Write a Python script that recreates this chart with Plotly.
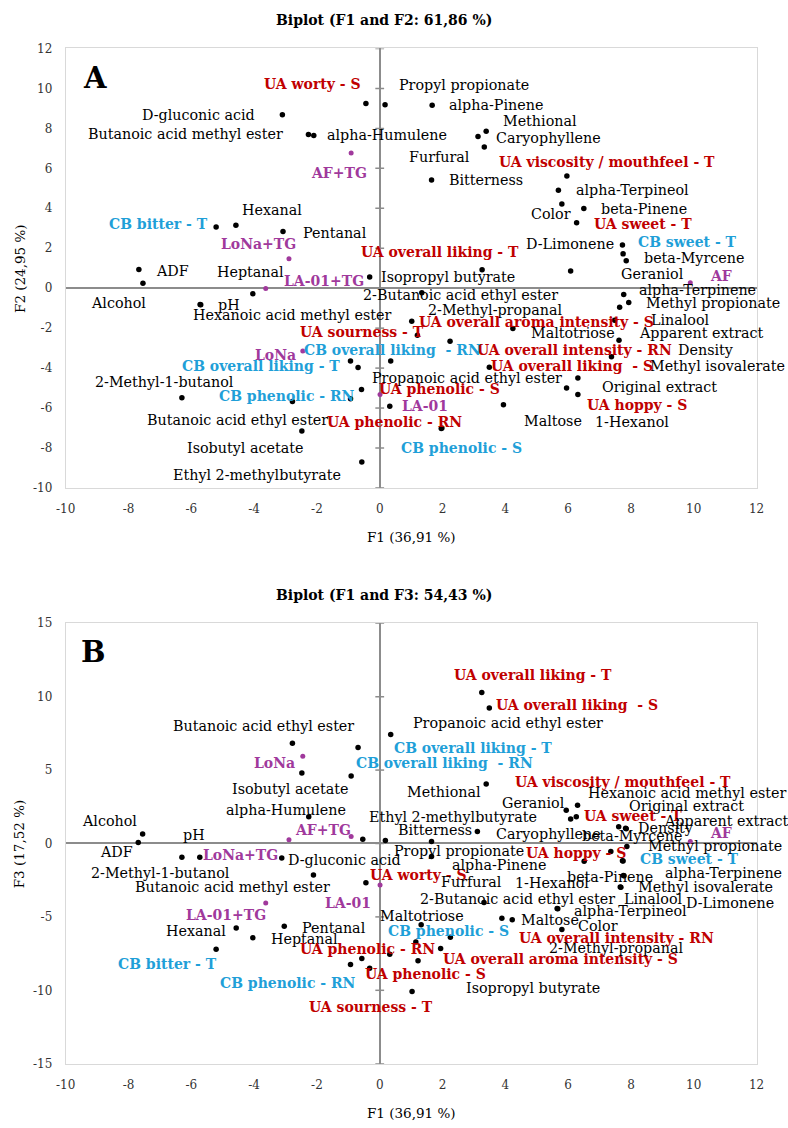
import plotly.graph_objects as go

W, H = 788, 1128

# ---------------------------------------------------------------- data
variables = [
    "D-gluconic acid", "Butanoic acid methyl ester", "alpha-Humulene", "Propyl propionate",
    "UA worty - S", "alpha-Pinene", "Methional", "Caryophyllene", "Furfural", "Bitterness",
    "UA viscosity / mouthfeel - T", "alpha-Terpineol", "Color", "beta-Pinene", "UA sweet - T",
    "D-Limonene", "CB sweet - T", "beta-Myrcene", "Geraniol", "alpha-Terpinene",
    "Methyl propionate", "1-Hexanol", "Linalool", "Apparent extract", "Density",
    "Methyl isovalerate", "UA hoppy - S", "Original extract", "UA overall liking - T",
    "Isopropyl butyrate", "Heptanal", "ADF", "Alcohol", "pH", "Hexanoic acid methyl ester",
    "2-Methyl-1-butanol", "CB phenolic - RN", "Isobutyl acetate", "Ethyl 2-methylbutyrate",
    "2-Butanoic acid ethyl ester", "2-Methyl-propanal", "UA overall aroma intensity - S",
    "Maltotriose", "UA overall intensity - RN", "UA overall liking  - S",
    "CB overall liking  - RN", "CB overall liking - T", "UA sourness - T",
    "Propanoic acid ethyl ester", "Butanoic acid ethyl ester", "UA phenolic - S", "Maltose",
    "UA phenolic - RN", "CB phenolic - S", "Hexanal", "CB bitter - T", "Pentanal",
]

# Panel A coordinates (F1, F2)
f1_A = [-3.10, -2.27, -2.10, 0.17, -0.44, 1.67, 3.39, 3.13, 3.33, 1.65,
        5.96, 5.69, 5.80, 6.50, 6.27, 7.73, 7.75, 7.85, 6.08, 7.77,
        7.93, 7.64, 7.48, 7.62, 7.38, 6.31, 5.95, 6.31, 3.26, -0.32,
        -4.04, -7.67, -7.54, -5.72, -5.70, -6.30, -2.78, -2.48, -0.57, 1.34,
        1.02, 1.20, 4.24, 2.24, 3.49, -0.93, -0.69, 0.35, -0.58, -0.93,
        0.32, 3.94, 1.96, 1.98, -4.58, -5.21, -3.08]
f2_A = [8.68, 7.70, 7.65, 9.18, 9.24, 9.16, 7.86, 7.60, 7.07, 5.42,
        5.62, 4.90, 4.22, 3.99, 3.28, 2.16, 1.72, 1.38, 0.86, -0.31,
        -0.72, -0.95, -1.61, -2.60, -3.43, -4.50, -4.99, -5.32, 0.92, 0.56,
        -0.28, 0.94, 0.25, -0.81, -0.83, -5.49, -5.67, -7.15, -8.70, -0.23,
        -1.66, -2.35, -2.02, -2.65, -3.96, -3.64, -3.97, -3.64, -5.07, -5.53,
        -5.91, -5.83, -7.02, -7.00, 3.15, 3.06, 2.84]

# Panel B coordinates (F1, F3)
f1_B = [-3.12, -2.11, -2.26, 0.18, -0.44, 1.65, 3.39, 3.11, 3.32, 1.65,
        6.30, 5.67, 5.80, 7.66, 6.26, 7.78, 7.73, 7.36, 6.08, 7.76,
        7.87, 5.65, 7.68, 7.85, 7.83, 7.75, 6.51, 7.61, 3.25, 1.03,
        -4.04, -7.69, -7.55, -5.73, 5.94, -6.30, -0.93, -2.48, -0.54, 3.89,
        -0.57, 1.94, 1.32, 0.32, 3.49, -0.91, -0.69, -0.32, 0.35, -2.78,
        1.22, 4.22, 1.15, 2.25, -4.57, -5.21, -3.04]
f3_B = [-0.99, -2.15, 1.82, 0.20, -2.67, -0.88, 4.06, 0.81, -4.02, 0.13,
        2.60, -4.44, -5.86, -2.96, 1.82, -2.20, -1.17, -0.54, 1.66, -2.18,
        -0.20, -4.42, -2.98, 1.01, 1.03, -1.19, -1.21, 1.14, 10.28, -10.08,
        -6.42, 0.07, 0.65, -0.94, 2.27, -0.94, -8.24, 4.80, 0.29, -5.10,
        -7.83, -7.16, -5.54, -7.54, 9.23, 4.60, 6.53, -8.50, 7.43, 6.82,
        -7.99, -5.19, -6.71, -6.38, -5.75, -7.21, -5.64]

samples = ["AF+TG", "LoNa+TG", "LA-01+TG", "AF", "LoNa", "LA-01"]
sample_f1 = [-0.91, -2.89, -3.63, 9.89, -2.45, 0.01]
sample_f2 = [6.77, 1.47, -0.01, 0.27, -3.15, -5.32]
sample_f3 = [0.47, 0.25, -4.06, 0.13, 5.95, -2.83]

x_ticks = [-10, -8, -6, -4, -2, 0, 2, 4, 6, 8, 10, 12]
yA_ticks = [-10, -8, -6, -4, -2, 0, 2, 4, 6, 8, 10, 12]
yB_ticks = [-15, -10, -5, 0, 5, 10, 15]

title_A = "Biplot (F1 and F2: 61,86 %)"
title_B = "Biplot (F1 and F3: 54,43 %)"
xtitle = "F1 (36,91 %)"
ytitle_A = "F2 (24,95 %)"
ytitle_B = "F3 (17,52 %)"

# ---------------------------------------------------------------- label placement (pixels: anchor, dx, dy-down)
lab_A = {
    "D-gluconic acid": ("right", -25.6, 0), "Butanoic acid methyl ester": ("right", -23.3, 0),
    "alpha-Humulene": ("left", 11, 0), "Propyl propionate": ("left", 11.7, -19.7),
    "UA worty - S": ("right", -3, -19.7), "alpha-Pinene": ("left", 15.3, 0),
    "Methional": ("left", 15, -9.7), "Caryophyllene": ("left", 15.7, 2),
    "Furfural": ("right", -12, 10.3), "Bitterness": ("left", 15.7, 0),
    "UA viscosity / mouthfeel - T": ("center", 39.7, -14), "alpha-Terpineol": ("left", 15.3, 0),
    "Color": ("center", -11.3, 9.7), "beta-Pinene": ("left", 15, 1),
    "UA sweet - T": ("left", 15.7, 1), "D-Limonene": ("right", -6, -1),
    "CB sweet - T": ("left", 12.6, -12), "beta-Myrcene": ("left", 15.7, -2.4),
    "Geraniol": ("left", 48.4, 3.4), "alpha-Terpinene": ("left", 13.4, -4.3),
    "Methyl propionate": ("left", 15.4, 0.7), "1-Hexanol": ("left", -26.6, 115),
    "Linalool": ("left", 34, 0), "Apparent extract": ("left", 18, -7.3),
    "Density": ("left", 65, -6.7), "Methyl isovalerate": ("left", 70.3, -12.4),
    "UA hoppy - S": ("left", 18.7, 17.6), "Original extract": ("left", 22, -7.3),
    "UA overall liking - T": ("center", -41.7, -17.7), "Isopropyl butyrate": ("left", 9.6, 0),
    "Heptanal": ("center", -2.6, -21.3), "ADF": ("left", 15.6, 1.6),
    "Alcohol": ("center", -24.3, 20.3), "pH": ("left", 15.7, 0.7),
    "Hexanoic acid methyl ester": ("left", -9.4, 9.9), "2-Methyl-1-butanol": ("center", -16.9, -15.7),
    "CB phenolic - RN": ("center", -5.7, -5.3), "Isobutyl acetate": ("right", 3.4, 16.7),
    "Ethyl 2-methylbutyrate": ("right", -19, 13.3), "2-Butanoic acid ethyl ester": ("left", -60.3, 2.4),
    "2-Methyl-propanal": ("left", 14.3, -11.6), "UA overall aroma intensity - S": ("left", 0, -13),
    "Maltotriose": ("left", 16, 4.3), "UA overall intensity - RN": ("left", 25, 8.4),
    "UA overall liking  - S": ("left", 0, -1.7), "CB overall liking  - RN": ("center", 42, -11),
    "CB overall liking - T": ("right", -15.7, -1), "UA sourness - T": ("center", -29, -29),
    "Propanoic acid ethyl ester": ("left", 8, -11.6), "Butanoic acid ethyl ester": ("right", -20.3, 21.3),
    "UA phenolic - S": ("left", -12.3, -17.6), "Maltose": ("left", 18.4, 16.3),
    "UA phenolic - RN": ("right", 23, -6.7), "CB phenolic - S": ("center", 19.4, 19.7),
    "Hexanal": ("center", 35.7, -15.3), "CB bitter - T": ("right", -5.7, -2.7),
    "Pentanal": ("left", 18, 1.7),
    "AF+TG": ("center", -12.6, 20), "LoNa+TG": ("center", -30.3, -15),
    "LA-01+TG": ("left", 16.6, -7), "AF": ("left", 17.6, -6.6),
    "LoNa": ("right", -4.3, 3.4), "LA-01": ("left", 20, 12),
}
lab_B = {
    "Butanoic acid ethyl ester": ("center", -28.5, -17.4), "Isobutyl acetate": ("center", -11.5, 16.3),
    "CB overall liking - T": ("left", 34, 0.5), "CB overall liking  - RN": ("left", 3.3, -13),
    "Propanoic acid ethyl ester": ("left", 20.7, -11.7), "UA overall liking - T": ("center", 51.6, -17.6),
    "UA overall liking  - S": ("left", 5, -2.7), "Methional": ("right", -2.7, 8),
    "alpha-Humulene": ("center", -22.9, -6.7), "UA viscosity / mouthfeel - T": ("center", 45.8, -23),
    "Hexanoic acid methyl ester": ("left", 19.3, -16.8), "Geraniol": ("right", -3.7, -16.3),
    "UA sweet - T": ("left", 6, -0.7), "Original extract": ("left", 8.3, -20.7),
    "Density": ("left", 10.1, 0), "Apparent extract": ("left", 36, -7.7),
    "Alcohol": ("right", -3.3, -13.3), "ADF": ("right", -3.2, 9.7),
    "Ethyl 2-methylbutyrate": ("left", 4.6, -22.7), "Propyl propionate": ("left", 6.9, 10),
    "Caryophyllene": ("left", 16.2, 2.3), "Bitterness": ("center", 3.4, -11.7),
    "Methyl propionate": ("left", 19.3, 0), "alpha-Pinene": ("left", 18.3, 8.3),
    "D-gluconic acid": ("left", 3.8, 2.3), "2-Methyl-1-butanol": ("center", -21.1, 15.7),
    "pH": ("center", -5.5, -22.7), "beta-Myrcene": ("center", 20.8, -15),
    "CB sweet - T": ("left", 15.6, -1.6), "Methyl isovalerate": ("left", 12.6, 26.3),
    "UA hoppy - S": ("center", -7.8, -8.3), "Butanoic acid methyl ester": ("right", 18.4, 12),
    "UA worty - S": ("left", 2.2, -7.7), "alpha-Terpinene": ("left", 40, -2.6),
    "D-Limonene": ("left", 60.3, 27), "beta-Pinene": ("center", -9.8, -10),
    "Linalool": ("left", 1.2, 11.4), "Furfural": ("center", -12.4, -21),
    "1-Hexanol": ("center", -5.5, -25), "alpha-Terpineol": ("left", 14.2, 2),
    "2-Butanoic acid ethyl ester": ("left", -83.5, -19.4), "Maltose": ("left", 6.4, 0.3),
    "Color": ("left", 13.9, -4), "Maltotriose": ("left", -43.6, -9.3),
    "CB phenolic - S": ("center", -1.4, -6), "Hexanal": ("right", -8.3, 3.4),
    "Pentanal": ("left", 16.1, 1.6), "Heptanal": ("left", 16.1, 1),
    "CB bitter - T": ("center", -49.1, 14.3), "UA phenolic - RN": ("right", 21.6, 6.6),
    "UA overall aroma intensity - S": ("left", 0, 10.7), "UA overall intensity - RN": ("left", 127.7, -15.7),
    "UA phenolic - S": ("center", 7.1, 13.6), "Isopropyl butyrate": ("left", 51.9, -3.4),
    "2-Methyl-propanal": ("left", 185.5, -10.6), "CB phenolic - RN": ("right", 7.8, 19),
    "UA sourness - T": ("center", 1.4, 38.4),
    "AF+TG": ("center", -27.8, -6.7), "LoNa+TG": ("right", -9.2, 15),
    "LA-01+TG": ("center", -39.7, 12), "AF": ("left", 18, -8.3),
    "LoNa": ("right", -6, 7), "LA-01": ("center", -32.4, 17.7),
}

# ---------------------------------------------------------------- style
SERIF = "DejaVu Serif"
RED, BLUE, MAG = "#C00000", "#1F9FD8", "#A0399C"
AXIS_GREY, FRAME_GREY = "#8C8C8C", "#D9D9D9"
FS_VAR, FS_BOLD = 14.3, 14
PLOT_L, PLOT_R = 57, 764
A_TOP, A_BOT = 42, 487
B_TOP, B_BOT = 624, 1070


def px_paper(px, py):
    return px / W, 1 - py / H


fig = go.Figure()
annotations = []


def add_panel(xs, ys, sx, sy, layout, xref, yref, yticks):
    # cross ticks on the vertical axis through x = 0
    half = 4.5 * 22 / (PLOT_R - PLOT_L)
    tx, ty = [], []
    for t in yticks:
        tx += [-half, half, None]
        ty += [t, t, None]
    fig.add_trace(go.Scatter(x=tx, y=ty, mode="lines", xaxis=xref, yaxis=yref,
                             line=dict(color=AXIS_GREY, width=1.5), hoverinfo="skip"))
    fig.add_trace(go.Scatter(x=xs, y=ys, mode="markers", xaxis=xref, yaxis=yref,
                             marker=dict(color="black", size=5.5), text=variables,
                             hoverinfo="text"))
    fig.add_trace(go.Scatter(x=sx, y=sy, mode="markers", xaxis=xref, yaxis=yref,
                             marker=dict(color=MAG, size=5), text=samples, hoverinfo="text"))
    for n, x, y in list(zip(variables, xs, ys)) + list(zip(samples, sx, sy)):
        anchor, dx, dy = layout[n]
        if n in samples:
            color, bold = MAG, True
        elif n.startswith("UA "):
            color, bold = RED, True
        elif n.startswith("CB "):
            color, bold = BLUE, True
        else:
            color, bold = "black", False
        annotations.append(dict(
            x=x, y=y, xref=xref, yref=yref, text=f"<b>{n}</b>" if bold else n,
            showarrow=False, xanchor=anchor, yanchor="middle", xshift=dx, yshift=-dy,
            font=dict(family=SERIF, size=FS_BOLD if bold else FS_VAR, color=color)))


add_panel(f1_A, f2_A, sample_f1, sample_f2, lab_A, "x", "y", yA_ticks)
add_panel(f1_B, f3_B, sample_f1, sample_f3, lab_B, "x2", "y2", yB_ticks)


def paper_text(text, px, py, size, bold=False, angle=0):
    xx, yy = px_paper(px, py)
    annotations.append(dict(x=xx, y=yy, xref="paper", yref="paper",
                            text=f"<b>{text}</b>" if bold else text, showarrow=False,
                            xanchor="center", yanchor="middle", textangle=angle,
                            font=dict(family=SERIF, size=size, color="black")))


paper_text(title_A, 383, 13, 14, bold=True)
paper_text(title_B, 383, 595, 14, bold=True)
paper_text(xtitle, 410.5, 537, 13.5)
paper_text(xtitle, 410.5, 1120, 13.5)
paper_text(ytitle_A, 10, (A_TOP + A_BOT) / 2, 13.5, angle=-90)
paper_text(ytitle_B, 10, (B_TOP + B_BOT) / 2, 13.5, angle=-90)
paper_text("A", 87, 72, 29, bold=True)
paper_text("B", 85, 653, 29, bold=True)

xdom = [PLOT_L / W, PLOT_R / W]
tickfont = dict(family=SERIF, size=12, color="#333333")
common_x = dict(range=[-10, 12], tickvals=x_ticks, ticktext=[str(t) for t in x_ticks],
                showgrid=False, zeroline=True, zerolinecolor=AXIS_GREY, zerolinewidth=2,
                showline=True, mirror=True, linecolor=FRAME_GREY, linewidth=1, ticks="",
                ticklabelstandoff=10, tickfont=tickfont, fixedrange=True)
common_y = dict(showgrid=False, zeroline=True, zerolinecolor=AXIS_GREY, zerolinewidth=1.5,
                showline=True, mirror=True, linecolor=FRAME_GREY, linewidth=1, ticks="",
                ticklabelstandoff=10, tickfont=tickfont, fixedrange=True)

fig.update_layout(
    width=W, height=H, autosize=False, margin=dict(l=0, r=0, t=0, b=0),
    paper_bgcolor="white", plot_bgcolor="white", showlegend=False,
    xaxis=dict(domain=xdom, anchor="y", **common_x),
    yaxis=dict(domain=[1 - A_BOT / H, 1 - A_TOP / H], anchor="x", range=[-10, 12],
               tickvals=yA_ticks, ticktext=[str(t) for t in yA_ticks], **common_y),
    xaxis2=dict(domain=xdom, anchor="y2", **common_x),
    yaxis2=dict(domain=[1 - B_BOT / H, 1 - B_TOP / H], anchor="x2", range=[-15, 15],
                tickvals=yB_ticks, ticktext=[str(t) for t in yB_ticks], **common_y),
    annotations=annotations,
)

fig.write_html("out.html")
